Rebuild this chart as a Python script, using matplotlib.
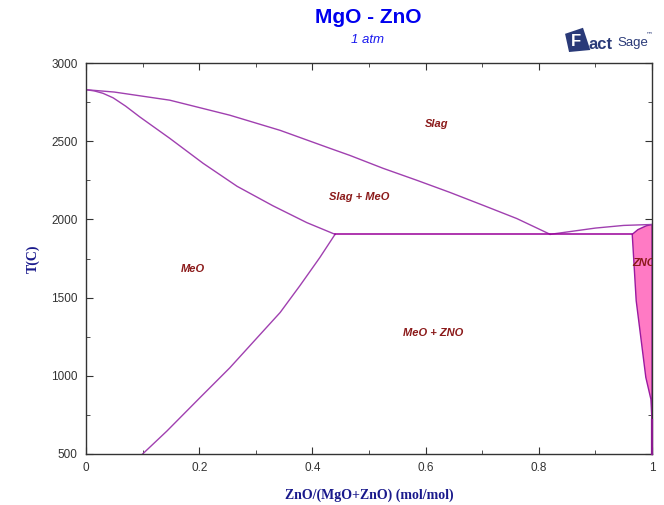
import matplotlib
matplotlib.use('Agg')
import matplotlib.pyplot as plt
from matplotlib.patches import Polygon
import numpy as np

# phase boundaries, x = ZnO/(MgO+ZnO), T in C
liq_meo_x = [0.0, 0.05, 0.148, 0.254, 0.343, 0.431, 0.466, 0.525, 0.585, 0.643, 0.702, 0.761, 0.82]
liq_meo_t = [2830, 2815, 2763, 2667, 2570, 2455, 2410, 2327, 2250, 2173, 2090, 2006, 1905]

sol_meo_x = [0.0, 0.015, 0.03, 0.048, 0.07, 0.095, 0.148, 0.207, 0.267, 0.330, 0.390, 0.440]
sol_meo_t = [2830, 2822, 2807, 2778, 2725, 2656, 2519, 2359, 2212, 2088, 1980, 1905]

solv_meo_x = [0.1, 0.143, 0.201, 0.254, 0.307, 0.343, 0.378, 0.413, 0.440]
solv_meo_t = [500, 647, 859, 1051, 1262, 1405, 1577, 1756, 1905]

liq_zno_x = [0.82, 0.86, 0.9, 0.95, 1.0]
liq_zno_t = [1905, 1925, 1945, 1962, 1968]

eut_x = [0.440, 0.965]
eut_t = [1905, 1905]

# ZnO solid solution field
zno_x = [0.965, 0.975, 0.99, 1.0, 1.0, 0.998, 0.989, 0.98, 0.972, 0.965]
zno_t = [1905, 1935, 1960, 1968, 700, 850, 990, 1250, 1480, 1905]
zno_edge_x = [1.0, 1.0]
zno_edge_t = [500, 720]

labels = ['Slag', 'Slag + MeO', 'MeO', 'MeO + ZNO', 'ZNO']
label_x = [0.62, 0.482, 0.189, 0.613, 0.985]
label_t = [2609, 2141, 1686, 1276, 1724]

fig = plt.figure(figsize=(6.64, 5.05), dpi=100)
ax = fig.add_axes([0.1295, 0.101, 0.8525, 0.774])

line_kw = dict(color='#a040b0', lw=1.0)
ax.fill(zno_x, zno_t, color='#ff7ac4', edgecolor='#9a1aa0', lw=1.0, zorder=2)
ax.plot(zno_edge_x, zno_edge_t, color='#8a1a90', lw=1.6, zorder=3, clip_on=False)
ax.plot(liq_meo_x, liq_meo_t, **line_kw)
ax.plot(sol_meo_x, sol_meo_t, **line_kw)
ax.plot(solv_meo_x, solv_meo_t, **line_kw)
ax.plot(liq_zno_x, liq_zno_t, **line_kw)
ax.plot(eut_x, eut_t, color='#990099', lw=1.1)

for s, x, t in zip(labels, label_x, label_t):
    ax.text(x, t, s, color='#8b1a1a', fontsize=8, fontweight='bold', style='italic',
            ha='center', va='center', family='Liberation Sans', clip_on=True)

ax.set_xlim(0, 1)
ax.set_ylim(500, 3000)
ax.set_xticks([0, 0.2, 0.4, 0.6, 0.8, 1.0])
ax.set_xticklabels(['0', '0.2', '0.4', '0.6', '0.8', '1'])
ax.set_xticks(np.arange(0.1, 1.0, 0.2), minor=True)
ax.set_yticks([500, 1000, 1500, 2000, 2500, 3000])
ax.set_yticks([750, 1250, 1750, 2250, 2750], minor=True)
ax.tick_params(which='both', direction='in', top=True, right=True, colors='#333333',
               labelcolor='#333333', labelsize=8.5, pad=6)
ax.tick_params(which='major', length=5)
ax.tick_params(which='minor', length=3)
for lab in ax.get_xticklabels() + ax.get_yticklabels():
    lab.set_family('Liberation Sans')
for sp in ax.spines.values():
    sp.set_color('#333333')
    sp.set_linewidth(1.0)

ax.set_xlabel('ZnO/(MgO+ZnO) (mol/mol)', family='Liberation Serif', fontweight='bold',
              fontsize=10, color='#1a1a8c', labelpad=10)
ax.set_ylabel('T(C)', family='Liberation Serif', fontweight='bold',
              fontsize=10, color='#1a1a8c', labelpad=8)

fig.text(0.554, 0.966, 'MgO - ZnO', color='#0000ee', fontsize=15, fontweight='bold',
         family='Liberation Sans', ha='center', va='center')
fig.text(0.554, 0.921, '1 atm', color='#1a1aee', fontsize=9.5, style='italic',
         family='Liberation Sans', ha='center', va='center')

# FactSage mark
navy = '#2a3a78'
fig.patches.append(Polygon([(0.851, 0.933), (0.878, 0.945), (0.889, 0.901), (0.857, 0.897)],
                           closed=True, transform=fig.transFigure, fc=navy, ec='none'))
fig.text(0.867, 0.917, 'F', color='white', fontsize=12, fontweight='bold',
         family='Liberation Sans', ha='center', va='center')
fig.text(0.886, 0.912, 'act', color=navy, fontsize=12, fontweight='bold',
         family='Liberation Sans', ha='left', va='center')
fig.text(0.930, 0.914, 'Sage', color=navy, fontsize=9.5,
         family='Liberation Sans', ha='left', va='center')
fig.text(0.973, 0.932, '\u2122', color=navy, fontsize=5,
         family='DejaVu Sans', ha='left', va='center')

fig.savefig('out.png', dpi=100)
